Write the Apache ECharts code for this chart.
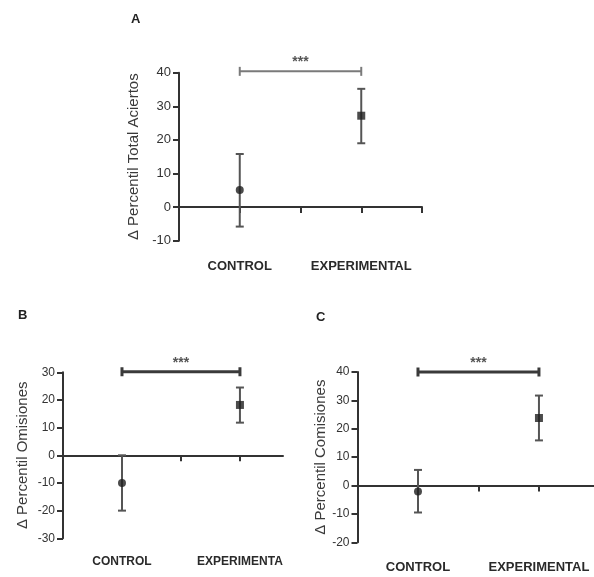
<!DOCTYPE html>
<html>
<head>
<meta charset="utf-8">
<script src="https://cdn.jsdelivr.net/npm/echarts@6/dist/echarts.min.js"></script>
<style>
html,body{margin:0;padding:0;background:#fff;}
#chart{width:594px;height:577px;}
</style>
</head>
<body>
<div id="chart"></div>
<script>
// ---- data ----
var categories = ['CONTROL', 'EXPERIMENTAL'];
var catX = [1, 3];
var panelLetters = ['A', 'B', 'C'];
var yTitles = ['\u0394 Percentil Total Aciertos', '\u0394 Percentil Omisiones', '\u0394 Percentil Comisiones'];

var meanA = [5.1, 27.2];
var upperA = [15.8, 35.2];
var lowerA = [-5.8, 19.0];

var meanB = [-10.0, 18.2];
var upperB = [0.0, 24.5];
var lowerB = [-20.0, 11.8];

var meanC = [-2.1, 23.8];
var upperC = [5.5, 31.7];
var lowerC = [-9.5, 15.9];

var sigLabel = '***';
var bracketY = [40.4, 30.2, 40.0];

var yMin = [-10, -30, -20];
var yMax = [40, 30, 40];
var xMax = [4, 3.73, 3.91];

// ---- layout / styles ----
var FONT = 'Liberation Sans, Arial, sans-serif';
var grids = [
  {left: 179, top: 72.7, width: 243, height: 168},
  {left: 63, top: 372.3, width: 220, height: 166},
  {left: 357.5, top: 372, width: 236.5, height: 170.3}
];
var nameGaps = [38, 33, 28];
var tickFont = [13, 12, 12];
var catFont = [13, 12, 13];
var catMargin = [19, 17, 19];
var bracketStyle = [
  {stroke: '#7a7a7a', lineWidth: 2},
  {stroke: '#3a3a3a', lineWidth: 3},
  {stroke: '#3a3a3a', lineWidth: 3}
];
var means = [meanA, meanB, meanC];
var uppers = [upperA, upperB, upperC];
var lowers = [lowerA, lowerB, lowerC];

var xAxes = [], yAxes = [], series = [], titles = [];

for (var p = 0; p < 3; p++) {
  titles.push({
    text: panelLetters[p],
    left: [131, 18, 316][p],
    top: [13, 309, 310.5][p],
    padding: 0,
    textStyle: {fontFamily: FONT, fontSize: 13, fontWeight: 'bold', color: '#222'}
  });
  // line axis (on zero)
  var lineTicks = p === 0 ? [1, 2, 3, 4] : [1, 2, 3];
  xAxes.push({
    type: 'value', gridIndex: p, min: 0, max: xMax[p], interval: 1,
    position: 'bottom',
    axisLine: {show: true, onZero: true, lineStyle: {color: '#333', width: 2}},
    axisTick: {show: true, inside: false, length: 6, customValues: lineTicks, lineStyle: {color: '#333', width: 2}},
    axisLabel: {show: false},
    splitLine: {show: false}
  });
  // label axis (bottom)
  var lbl = {
    show: true, customValues: catX.slice(), margin: catMargin[p],
    fontFamily: FONT, fontSize: catFont[p], fontWeight: 'bold', color: '#2a2a2a',
    formatter: function (v) { var i = catX.indexOf(v); return i >= 0 ? categories[i] : ''; }
  };
  if (p === 1) { lbl.width = 88; lbl.overflow = 'truncate'; lbl.ellipsis = ''; }
  xAxes.push({
    type: 'value', gridIndex: p, min: 0, max: xMax[p], interval: 1,
    position: 'bottom',
    axisLine: {show: false, onZero: false},
    axisTick: {show: false},
    axisLabel: lbl,
    splitLine: {show: false}
  });
  yAxes.push({
    type: 'value', gridIndex: p, min: yMin[p], max: yMax[p], interval: 10,
    name: yTitles[p], nameLocation: 'middle', nameGap: nameGaps[p], nameRotate: 90,
    nameTextStyle: {fontFamily: FONT, fontSize: 15, color: '#3a3a3a'},
    axisLine: {show: true, onZero: false, lineStyle: {color: '#333', width: 2}},
    axisTick: {show: true, inside: false, length: 6, lineStyle: {color: '#333', width: 2}},
    axisLabel: {fontFamily: FONT, fontSize: tickFont[p], color: '#333', margin: 8},
    splitLine: {show: false}
  });

  var xi = p * 2, yi = p;
  // error bars
  var errData = [];
  for (var i = 0; i < catX.length; i++) errData.push([catX[i], lowers[p][i], uppers[p][i]]);
  series.push({
    type: 'custom', xAxisIndex: xi, yAxisIndex: yi, data: errData,
    encode: {x: 0, y: [1, 2]}, silent: true, z: 3,
    renderItem: function (params, api) {
      var x = api.value(0), lo = api.value(1), hi = api.value(2);
      var a = api.coord([x, hi]), b = api.coord([x, lo]);
      var w = 4, st = {stroke: '#555', lineWidth: 2};
      return {type: 'group', children: [
        {type: 'line', shape: {x1: a[0], y1: a[1], x2: b[0], y2: b[1]}, style: st},
        {type: 'line', shape: {x1: a[0] - w, y1: a[1], x2: a[0] + w, y2: a[1]}, style: st},
        {type: 'line', shape: {x1: b[0] - w, y1: b[1], x2: b[0] + w, y2: b[1]}, style: st}
      ]};
    }
  });
  // means
  var mData = [];
  for (var j = 0; j < catX.length; j++) {
    mData.push({value: [catX[j], means[p][j]], symbol: j === 0 ? 'circle' : 'rect', symbolSize: j === 0 ? 8 : 8});
  }
  series.push({
    type: 'scatter', xAxisIndex: xi, yAxisIndex: yi, data: mData, z: 5, silent: true,
    itemStyle: {color: '#1e1e1e'}
  });
  // significance bracket
  (function (bs) {
    series.push({
      type: 'custom', xAxisIndex: xi, yAxisIndex: yi, silent: true, z: 4,
      data: [[catX[0], catX[1], bracketY[p]]],
      encode: {x: [0, 1], y: 2},
      renderItem: function (params, api) {
        var l = api.coord([api.value(0), api.value(2)]);
        var r = api.coord([api.value(1), api.value(2)]);
        var h = 4.5;
        var st = {stroke: bs.stroke, lineWidth: bs.lineWidth};
        return {type: 'group', children: [
          {type: 'line', shape: {x1: l[0], y1: l[1], x2: r[0], y2: r[1]}, style: st},
          {type: 'line', shape: {x1: l[0], y1: l[1] - h, x2: l[0], y2: l[1] + h}, style: st},
          {type: 'line', shape: {x1: r[0], y1: r[1] - h, x2: r[0], y2: r[1] + h}, style: st},
          {type: 'text', x: (l[0] + r[0]) / 2, y: l[1] - 9,
            style: {text: sigLabel, fontFamily: FONT, fontSize: 14, fontWeight: 'bold', fill: '#555', align: 'center', verticalAlign: 'middle'}}
        ]};
      }
    });
  })(bracketStyle[p]);
}

var chart = echarts.init(document.getElementById('chart'), null, {renderer: 'canvas'});
chart.setOption({
  animation: false,
  backgroundColor: '#fff',
  title: titles,
  grid: grids,
  xAxis: xAxes,
  yAxis: yAxes,
  series: series
});
</script>
</body>
</html>
